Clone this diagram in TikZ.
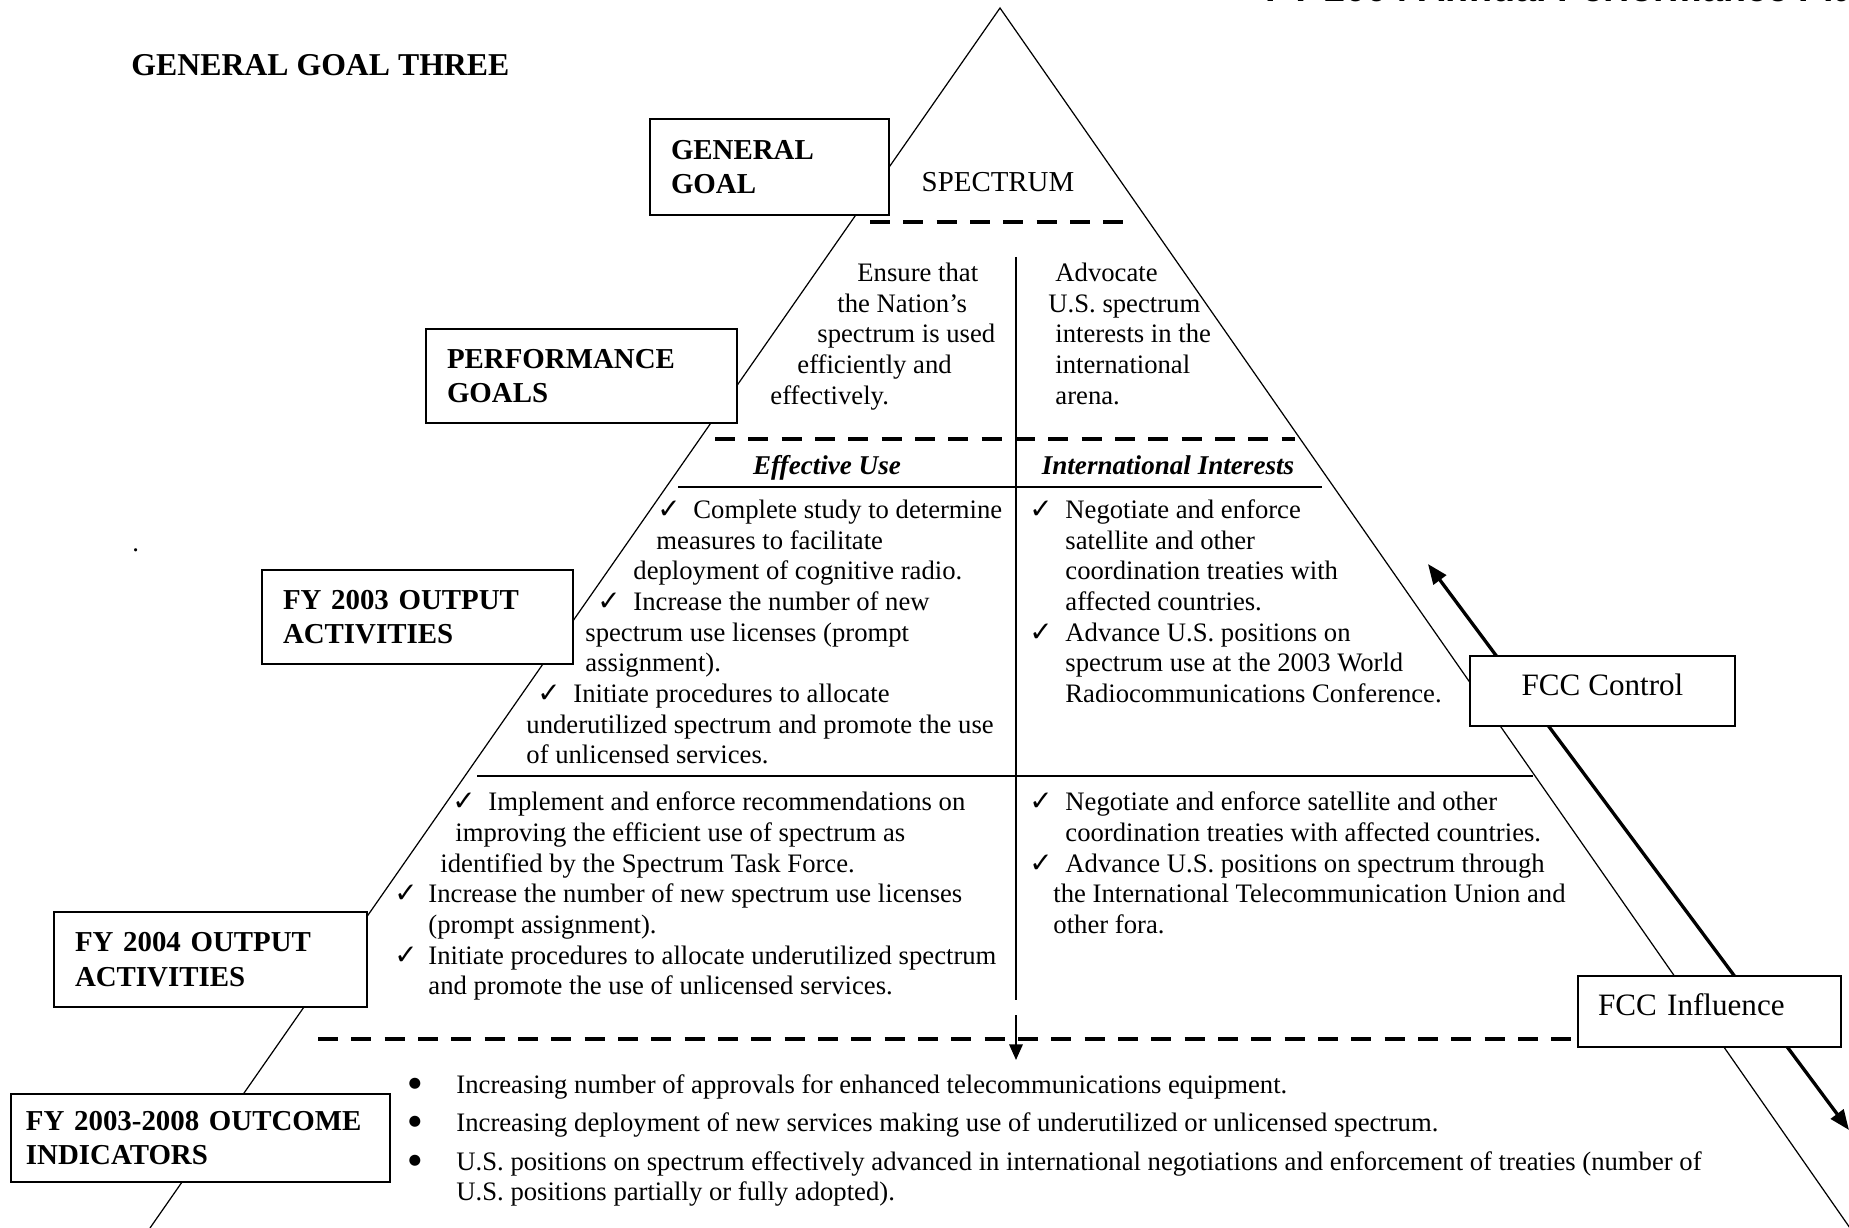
\documentclass[tikz,border=0pt]{standalone}
\usepackage{fontspec}
\setmainfont{Liberation Serif}
\newfontfamily\symfont{DejaVu Sans}
\newfontfamily\hdrfont{Liberation Sans}
\usetikzlibrary{arrows.meta}
\pgfdeclarelayer{bg}
\pgfsetlayers{bg,main}
\newcommand\txline[4]{\node[txt] (#1) at (#2,#3) {#4};}
\newcommand\ckline[5]{\node[ck] (#1c) at (#2,#4) {✓}; \node[txt] (#1) at (#3,#4) {#5};}
\newcommand\bline[4]{\node[bul] (#1b) at (415,#2) {●}; \node[btxt] (#1) at (456,#3) {#4};}
\begin{document}
\begin{tikzpicture}[x=0.45pt,y=-0.45pt,
  box/.style={draw, fill=white, line width=0.8pt, inner sep=0pt, align=left,
    font=\bfseries\fontsize{13}{15.5}\selectfont},
  fccbox/.style={draw, fill=white, line width=0.8pt, inner sep=0pt,
    font=\fontsize{14}{16}\selectfont},
  txt/.style={anchor=base west, inner sep=0pt, font=\fontsize{12}{14}\selectfont},
  btxt/.style={anchor=base west, inner sep=0pt, font=\fontsize{12}{14}\selectfont},
  head/.style={anchor=base, inner sep=0pt, font=\bfseries\itshape\fontsize{12.2}{14}\selectfont},
  ck/.style={anchor=base west, inner sep=0pt, font=\symfont\fontsize{12.5}{12.5}\selectfont},
  bul/.style={anchor=center, inner sep=0pt, font=\symfont\fontsize{6.5}{6.5}\selectfont},
  tri/.style={line width=0.55pt},
  sepline/.style={line width=0.75pt},
  dashline/.style={line width=1.8pt, dash pattern=on 9pt off 6pt},
  bigarrow/.style={line width=1.5pt, {Triangle[length=9pt,width=7pt]}-{Triangle[length=9pt,width=7pt]}},
  downarrow/.style={line width=0.9pt, -{Triangle[length=7pt,width=6pt]}}
]
\useasboundingbox (0,0) rectangle (1849,1228);

% header (cut off at the top of the page)
\node[anchor=base west, inner sep=0pt, font=\hdrfont\bfseries\fontsize{17}{20}\selectfont] (hdr) at (1265,1.5) {FY 2004 Annual Performance Plan};

% title
\node[anchor=base west, inner sep=0pt, font=\bfseries\fontsize{14.3}{16}\selectfont] (title) at (131,76) {GENERAL GOAL THREE};
\node[txt] (dot) at (132,552) {.};

% boxes
\node[box, minimum width=107.55pt, minimum height=43.2pt, text width=88.65pt] (gg) at (769.5,167) {GENERAL\\GOAL};
\node[box, minimum width=139.95pt, minimum height=42.3pt, text width=121.05pt] (pg) at (581.5,376) {PERFORMANCE\\GOALS};
\node[box, minimum width=139.95pt, minimum height=42.3pt, text width=121.05pt] (fy3) at (417.5,617) {FY 2003 OUTPUT\\ACTIVITIES};
\node[box, minimum width=140.85pt, minimum height=42.75pt, text width=121.95pt] (fy4) at (210.5,959.5) {FY 2004 OUTPUT\\ACTIVITIES};
\node[box, line width=1.2pt, minimum width=170.55pt, minimum height=39.6pt, text width=157.05pt] (oc) at (200.5,1138) {FY 2003-2008 OUTCOME\\INDICATORS};
\node[fccbox, minimum width=119.25pt, minimum height=31.5pt, text depth=5.5pt] (fccc) at (1602.5,691) {FCC Control};
\node[fccbox, minimum width=118.35pt, minimum height=31.95pt, text width=100.35pt, text depth=6pt, align=left] (fcci) at (1709.5,1011.5) {FCC Influence};

\node[inner sep=0pt, font=\fontsize{13}{15}\selectfont] (spec) at (998,182) {SPECTRUM};

% performance goals
\txline{pa1}{857}{281.4}{Ensure that}
\txline{pa2}{837}{312.1}{the Nation’s}
\txline{pa3}{817}{342.7}{spectrum is used}
\txline{pa4}{797}{373.4}{efficiently and}
\txline{pa5}{770}{404.1}{effectively.}
\txline{pb1}{1055}{281.4}{Advocate}
\txline{pb2}{1048}{312.1}{U.S. spectrum}
\txline{pb3}{1055}{342.7}{interests in the}
\txline{pb4}{1055}{373.4}{international}
\txline{pb5}{1055}{404.1}{arena.}

% headings
\node[head] (h1) at (827,475) {Effective Use};
\node[head] (h2) at (1168,475) {International Interests};

% FY 2003 left
\ckline{a1}{657}{693}{518.4}{Complete study to determine}
\txline{a2}{656}{549.1}{measures to facilitate}
\txline{a3}{633}{579.7}{deployment of cognitive radio.}
\ckline{a4}{597}{633}{610.4}{Increase the number of new}
\txline{a5}{585}{641.1}{spectrum use licenses (prompt}
\txline{a6}{585}{671.7}{assignment).}
\ckline{a7}{537}{573}{702.4}{Initiate procedures to allocate}
\txline{a8}{526}{733.0}{underutilized spectrum and promote the use}
\txline{a9}{526}{763.7}{of unlicensed services.}

% FY 2003 right
\ckline{b1}{1029}{1065}{518.4}{Negotiate and enforce}
\txline{b2}{1065}{549.1}{satellite and other}
\txline{b3}{1065}{579.7}{coordination treaties with}
\txline{b4}{1065}{610.4}{affected countries.}
\ckline{b5}{1029}{1065}{641.1}{Advance U.S. positions on}
\txline{b6}{1065}{671.7}{spectrum use at the 2003 World}
\txline{b7}{1065}{702.4}{Radiocommunications Conference.}

% FY 2004 left
\ckline{c1}{452}{488}{810.8}{Implement and enforce recommendations on}
\txline{c2}{455}{841.5}{improving the efficient use of spectrum as}
\txline{c3}{440}{872.2}{identified by the Spectrum Task Force.}
\ckline{c4}{394}{428}{902.8}{Increase the number of new spectrum use licenses}
\txline{c5}{428}{933.5}{(prompt assignment).}
\ckline{c6}{394}{428}{964.2}{Initiate procedures to allocate underutilized spectrum}
\txline{c7}{428}{994.8}{and promote the use of unlicensed services.}

% FY 2004 right
\ckline{d1}{1029}{1065}{810.8}{Negotiate and enforce satellite and other}
\txline{d2}{1065}{841.5}{coordination treaties with affected countries.}
\ckline{d3}{1029}{1065}{872.2}{Advance U.S. positions on spectrum through}
\txline{d4}{1053}{902.8}{the International Telecommunication Union and}
\txline{d5}{1053}{933.5}{other fora.}

% outcome indicators
\bline{e1}{1084}{1093}{Increasing number of approvals for enhanced telecommunications equipment.}
\bline{e2}{1122}{1131}{Increasing deployment of new services making use of underutilized or unlicensed spectrum.}
\bline{e3}{1161}{1170}{U.S. positions on spectrum effectively advanced in international negotiations and enforcement of treaties (number of}
\node[btxt] (e4) at (456,1200) {U.S. positions partially or fully adopted).};

% background lines
\begin{pgfonlayer}{bg}
\coordinate (apex) at (1000,8);
\coordinate (bl) at (150,1228);
\coordinate (br) at (1850,1228);
\draw[tri] (bl) -- (apex) -- (br);
\coordinate (ds1a) at (870,222);  \coordinate (ds1b) at (1134,222);
\coordinate (ds2a) at (715,439);  \coordinate (ds2b) at (1295,439);
\coordinate (ds3a) at (318,1039);
\draw[dashline] (ds1a) -- (ds1b);
\draw[dashline] (ds2a) -- (ds2b);
\draw[dashline] (ds3a) -- (ds3a -| fcci.west);
\coordinate (hl1a) at (678,487);  \coordinate (hl1b) at (1322,487);
\coordinate (hl2a) at (477,776);  \coordinate (hl2b) at (1533,776);
\draw[sepline] (hl1a) -- (hl1b);
\draw[sepline] (hl2a) -- (hl2b);
\coordinate (vt) at (1016,257); \coordinate (vb) at (1016,1000);
\draw[sepline] (vt) -- (vb);
\coordinate (ar1) at (1016,1015); \coordinate (ar2) at (1016,1060);
\draw[downarrow] (ar1) -- (ar2);
\coordinate (ctip) at (1428,564); \coordinate (itip) at (1849,1130);
\draw[bigarrow] (ctip) -- (itip);
\end{pgfonlayer}
\end{tikzpicture}
\end{document}
